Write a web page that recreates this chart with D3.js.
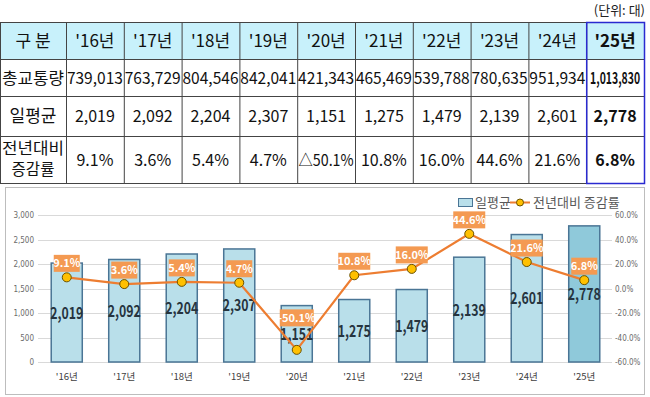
<!DOCTYPE html>
<html><head><meta charset="utf-8">
<script src="https://cdn.jsdelivr.net/npm/d3@7"></script>
<style>body{margin:0;background:#fff}svg{display:block}</style>
</head><body>
<svg id="c" width="650" height="397"></svg>
<script>
const years = ["'16년","'17년","'18년","'19년","'20년","'21년","'22년","'23년","'24년","'25년"];
const totalTraffic = ["739,013","763,729","804,546","842,041","421,343","465,469","539,788","780,635","951,934","1,013,830"];
const dailyAvg = [2019,2092,2204,2307,1151,1275,1479,2139,2601,2778];
const yoyRate = [9.1,3.6,5.4,4.7,-50.1,10.8,16.0,44.6,21.6,6.8];
const rowLabels = ["구 분","총교통량","일평균","전년대비|증감률"];
const leftTicks = [0,500,1000,1500,2000,2500,3000];
const rightTicks = [-60,-40,-20,0,20,40,60];
const unitLabel = "(단위: 대)";
const legendLabels = ["일평균","전년대비 증감률"];

const svg = d3.select("#c");
const F = "'Noto Sans CJK KR','Noto Sans',sans-serif";

// ---------- Table ----------
const colX = d3.scaleBand().domain(years).range([66,644]);
const rowY = [22,59,96,136,183];
svg.append("text").attr("x",645).attr("y",15).attr("text-anchor","end")
  .attr("font-family",F).attr("font-size",13).attr("fill","#222").text(unitLabel);
svg.append("rect").attr("x",0).attr("y",rowY[0]).attr("width",644).attr("height",rowY[1]-rowY[0]).attr("fill","#c8f1fb");
const g = svg.append("g").attr("stroke","#444").attr("stroke-width",1);
rowY.forEach(y=>g.append("line").attr("x1",0).attr("x2",644).attr("y1",y+0.5).attr("y2",y+0.5));
[0,66,...years.map(d=>colX(d)+colX.bandwidth())].forEach(x=>g.append("line").attr("x1",x+0.5).attr("x2",x+0.5).attr("y1",rowY[0]).attr("y2",rowY[4]));
// first column labels
rowLabels.forEach((t,i)=>{
  const cy=(rowY[i]+rowY[i+1])/2;
  const parts=t.split("|");
  parts.forEach((p,j)=>{
    svg.append("text").attr("x",33).attr("y",cy+(j-(parts.length-1)/2)*21+(parts.length>1?5:6)).attr("text-anchor","middle")
      .attr("font-family",F).attr("font-size",i===0||i===2?17:(i===3?15.5:16)).attr("fill","#111")
      .attr("textLength",p.length===4?62:null).attr("lengthAdjust","spacingAndGlyphs").text(p);
  });
});
years.forEach((yr,i)=>{
  const cx=colX(yr)+colX.bandwidth()/2, last=i===years.length-1;
  const w=last?"bold":"normal";
  svg.append("text").attr("x",cx).attr("y",(rowY[0]+rowY[1])/2+6).attr("text-anchor","middle")
    .attr("font-family",F).attr("font-size",17).attr("font-weight",w).attr("fill","#111").text(yr);
  svg.append("text").attr("x",cx).attr("y",(rowY[1]+rowY[2])/2+6).attr("text-anchor","middle")
    .attr("font-family",F).attr("font-size",16).attr("font-weight",w).attr("fill","#111")
    .attr("textLength",last?50:56).attr("lengthAdjust","spacingAndGlyphs").text(totalTraffic[i]);
  svg.append("text").attr("x",cx).attr("y",(rowY[2]+rowY[3])/2+6).attr("text-anchor","middle")
    .attr("font-family",F).attr("font-size",16).attr("font-weight",w).attr("fill","#111").text(d3.format(",")(dailyAvg[i]));
  const r=yoyRate[i];
  svg.append("text").attr("x",cx).attr("y",(rowY[3]+rowY[4])/2+6).attr("text-anchor","middle")
    .attr("font-family",F).attr("font-size",16).attr("font-weight",w).attr("fill","#111")
    .attr("textLength",r<0?55:null).attr("lengthAdjust","spacingAndGlyphs")
    .text(r<0?"△"+Math.abs(r).toFixed(1)+"%":r.toFixed(1)+"%");
});
// highlighted last column border
const lx=colX(years[9]);
svg.append("rect").attr("x",lx+0.5).attr("y",rowY[0]+0.5).attr("width",colX.bandwidth()).attr("height",rowY[4]-rowY[0])
  .attr("fill","none").attr("stroke","#2a2ad0").attr("stroke-width",1.5);

// ---------- Chart ----------
svg.append("rect").attr("x",5.5).attr("y",187.5).attr("width",639).attr("height",207).attr("fill","#fff").attr("stroke","#bdbdbd");
const x = d3.scaleBand().domain(years).range([38,613]).paddingInner(0.46).paddingOuter(0.23);
const yL = d3.scaleLinear().domain([0,3000]).range([362,215]);
const yR = d3.scaleLinear().domain([-60,60]).range([362,215]);

// grid
svg.append("g").selectAll("line").data(leftTicks).join("line")
  .attr("x1",38).attr("x2",612).attr("y1",d=>Math.round(yL(d))+0.5).attr("y2",d=>Math.round(yL(d))+0.5)
  .attr("stroke","#d9d9d9");
// left axis
const axL = svg.append("g").attr("transform","translate(34,0)")
  .call(d3.axisLeft(yL).tickValues(leftTicks).tickFormat(d3.format(",")).tickSize(0).tickPadding(0));
axL.select(".domain").remove();
axL.selectAll("text").attr("font-family","'Liberation Sans Narrow','DejaVu Sans Condensed',sans-serif").attr("font-size",8).attr("fill","#6b6b6b");
// right axis
const axR = svg.append("g").attr("transform","translate(615,0)")
  .call(d3.axisRight(yR).tickValues(rightTicks).tickFormat(d=>d.toFixed(1)+"%").tickSize(0).tickPadding(0));
axR.select(".domain").remove();
axR.selectAll("text").attr("font-family","'Liberation Sans Narrow','DejaVu Sans Condensed',sans-serif").attr("font-size",8).attr("fill","#6b6b6b");
// x axis
const axX = svg.append("g").attr("transform","translate(0,372)")
  .call(d3.axisBottom(x).tickSize(0).tickPadding(0));
axX.select(".domain").remove();
axX.selectAll("text").attr("font-family",F).attr("font-size",9.5).attr("fill","#404040").attr("dy","0.8em");

// bars
svg.append("g").selectAll("rect").data(dailyAvg).join("rect")
  .attr("x",(d,i)=>x(years[i])).attr("width",x.bandwidth())
  .attr("y",d=>yL(d)).attr("height",d=>yL(0)-yL(d))
  .attr("fill",(d,i)=>i===9?"#8fc9da":"#b9dfea").attr("stroke","#4a7595").attr("stroke-width",1.5);
// bar labels
svg.append("g").selectAll("text").data(dailyAvg).join("text")
  .attr("x",(d,i)=>x(years[i])+x.bandwidth()/2).attr("y",d=>(yL(d)+yL(0))/2+6)
  .attr("text-anchor","middle").attr("font-family",F).attr("font-size",16).attr("font-weight","bold")
  .attr("fill","#26343f").attr("textLength",33).attr("lengthAdjust","spacingAndGlyphs")
  .text(d=>d3.format(",")(d));

// line
const cx = i=>x(years[i])+x.bandwidth()/2;
svg.append("path").datum(yoyRate)
  .attr("d",d3.line().x((d,i)=>cx(i)).y(d=>yR(d)))
  .attr("fill","none").attr("stroke","#ed7d31").attr("stroke-width",2.2);
svg.append("g").selectAll("circle").data(yoyRate).join("circle")
  .attr("cx",(d,i)=>cx(i)).attr("cy",d=>yR(d)).attr("r",4.5)
  .attr("fill","#ffc000").attr("stroke","#6b5200").attr("stroke-width",1);
// rate labels
const lg = svg.append("g").selectAll("g").data(yoyRate).join("g")
  .attr("transform",(d,i)=>`translate(${cx(i)},${yR(d)-(d<0?32:14)})`);
lg.append("rect").attr("x",d=>d<0?-17:(Math.abs(d)>=10?-16:-13)).attr("y",-8.5)
  .attr("width",d=>d<0?34:(Math.abs(d)>=10?32:26)).attr("height",17).attr("fill","#f49a52");
lg.append("text").attr("y",4).attr("text-anchor","middle").attr("font-family",F).attr("font-size",11)
  .attr("font-weight","bold").attr("fill","#fff").text(d=>d.toFixed(1)+"%");

// legend
svg.append("rect").attr("x",458.5).attr("y",198.5).attr("width",14).attr("height",8).attr("fill","#b9dfea").attr("stroke","#4a7595");
svg.append("text").attr("x",475).attr("y",207).attr("font-family",F).attr("font-size",13).attr("fill","#595959").text(legendLabels[0]);
svg.append("line").attr("x1",510).attr("x2",530).attr("y1",202.5).attr("y2",202.5).attr("stroke","#ed7d31").attr("stroke-width",2);
svg.append("circle").attr("cx",520).attr("cy",202.5).attr("r",3.5).attr("fill","#ffc000").attr("stroke","#6b5200");
svg.append("text").attr("x",533).attr("y",207).attr("font-family",F).attr("font-size",13).attr("fill","#595959").text(legendLabels[1]);
</script>
</body></html>
